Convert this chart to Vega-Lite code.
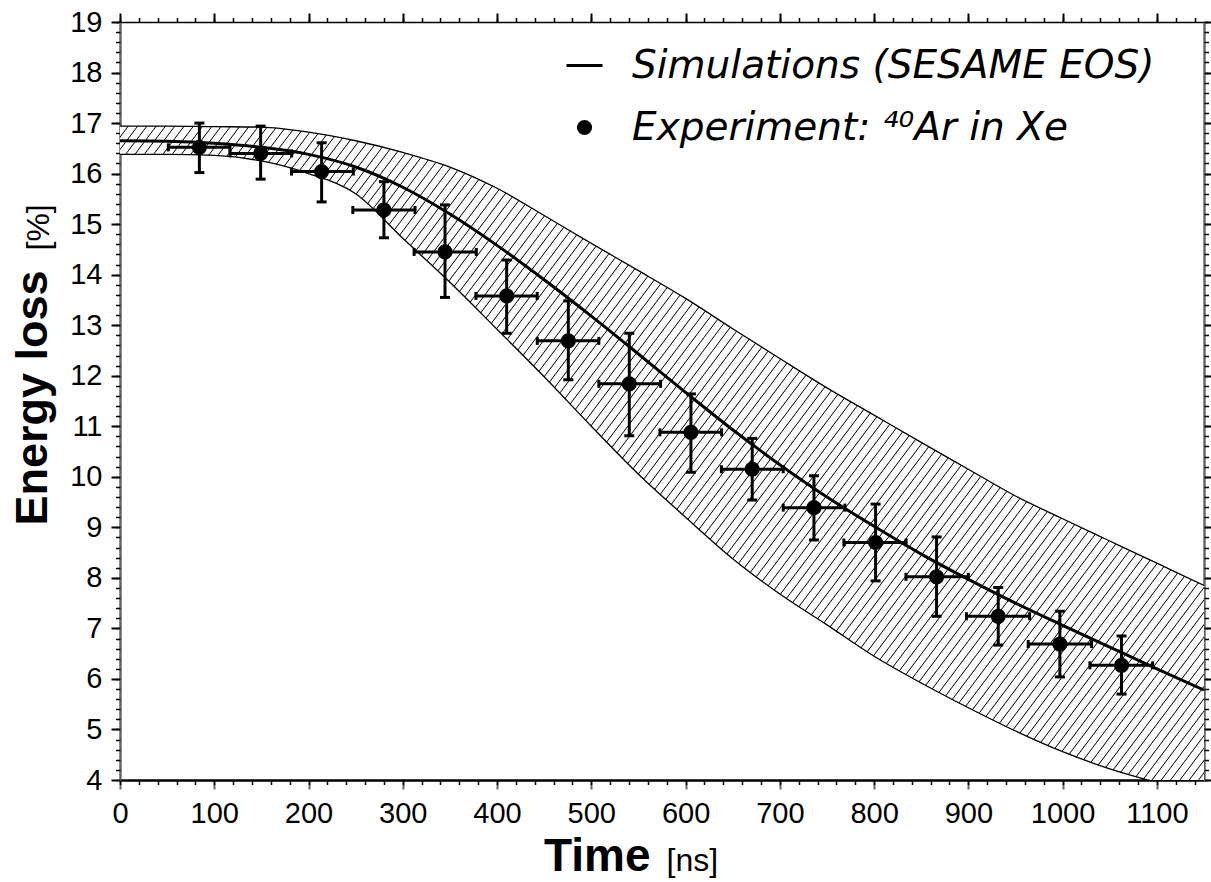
{
"$schema":"https://vega.github.io/schema/vega-lite/v6.json",
"width":1084,"height":758,
"autosize":{"type":"none"},
"padding":{"left":120,"top":22,"right":7,"bottom":102},
"background":"white",
"config":{"view":{"stroke":null},"axis":{"grid":false,"zindex":1,"labelFont":"Liberation Sans","titleFont":"Liberation Sans","labelColor":"#000","titleColor":"#000","tickColor":"#000","domainColor":"#000","labelFlush":false,"labelOverlap":false}},
"datasets":{
"band":[
{"t":0,"lo":16.38,"up":16.94,"mid":16.65},
{"t":50,"lo":16.38,"up":16.94,"mid":16.64},
{"t":100,"lo":16.36,"up":16.93,"mid":16.60},
{"t":150,"lo":16.25,"up":16.92,"mid":16.52},
{"t":200,"lo":16.00,"up":16.82,"mid":16.38},
{"t":250,"lo":15.60,"up":16.65,"mid":16.13},
{"t":300,"lo":14.72,"up":16.42,"mid":15.73},
{"t":350,"lo":13.85,"up":16.13,"mid":15.20},
{"t":400,"lo":12.92,"up":15.71,"mid":14.58},
{"t":450,"lo":11.98,"up":15.17,"mid":13.90},
{"t":500,"lo":11.00,"up":14.62,"mid":13.18},
{"t":550,"lo":10.05,"up":14.08,"mid":12.43},
{"t":600,"lo":9.20,"up":13.53,"mid":11.67},
{"t":650,"lo":8.38,"up":12.93,"mid":10.93},
{"t":700,"lo":7.68,"up":12.34,"mid":10.24},
{"t":750,"lo":7.07,"up":11.76,"mid":9.60},
{"t":800,"lo":6.45,"up":11.22,"mid":9.02},
{"t":850,"lo":5.92,"up":10.68,"mid":8.47},
{"t":900,"lo":5.43,"up":10.15,"mid":7.97},
{"t":950,"lo":4.97,"up":9.62,"mid":7.50},
{"t":1000,"lo":4.56,"up":9.17,"mid":7.06},
{"t":1050,"lo":4.22,"up":8.73,"mid":6.63},
{"t":1100,"lo":3.95,"up":8.29,"mid":6.20},
{"t":1150,"lo":3.70,"up":7.85,"mid":5.78}
],
"pts":[
{"t":84.2,"v":16.52,"vlo":16.02,"vhi":17.0,"tlo":51.3,"thi":116.7},
{"t":149.2,"v":16.40,"vlo":15.89,"vhi":16.94,"tlo":116.7,"thi":182.1},
{"t":213.9,"v":16.04,"vlo":15.44,"vhi":16.61,"tlo":182,"thi":247.5},
{"t":280,"v":15.28,"vlo":14.73,"vhi":15.84,"tlo":247,"thi":313},
{"t":344.8,"v":14.45,"vlo":13.55,"vhi":15.38,"tlo":312,"thi":378},
{"t":410.2,"v":13.58,"vlo":12.84,"vhi":14.29,"tlo":377.6,"thi":442.6},
{"t":475.6,"v":12.69,"vlo":11.92,"vhi":13.48,"tlo":442.7,"thi":508},
{"t":540.3,"v":11.84,"vlo":10.81,"vhi":12.84,"tlo":508,"thi":573.5},
{"t":605.7,"v":10.88,"vlo":10.09,"vhi":11.64,"tlo":572.8,"thi":638.2},
{"t":670.7,"v":10.15,"vlo":9.54,"vhi":10.76,"tlo":638,"thi":703.6},
{"t":736.2,"v":9.39,"vlo":8.75,"vhi":10.02,"tlo":703.6,"thi":769},
{"t":801.6,"v":8.70,"vlo":7.94,"vhi":9.46,"tlo":768,"thi":834},
{"t":866.3,"v":8.02,"vlo":7.24,"vhi":8.81,"tlo":833.8,"thi":900},
{"t":931.7,"v":7.24,"vlo":6.67,"vhi":7.81,"tlo":898,"thi":965},
{"t":997.1,"v":6.69,"vlo":6.04,"vhi":7.34,"tlo":963.5,"thi":1030.7},
{"t":1062.5,"v":6.27,"vlo":5.70,"vhi":6.85,"tlo":1029,"thi":1095.5}
]
},
"layer":[
{"data":{"name":"band"},
"mark":{"type":"area","interpolate":"monotone","clip":true,"fill":{"gradient":"linear","x1":0,"y1":0,"x2":1.4112,"y2":0.6564,"stops":[
{"offset":0.00,"color":"#fff"},{"offset":0.0039,"color":"#fff"},{"offset":0.0045,"color":"#000"},{"offset":0.005,"color":"#fff"},{"offset":0.0089,"color":"#fff"},{"offset":0.0095,"color":"#000"},
{"offset":0.01,"color":"#fff"},{"offset":0.0139,"color":"#fff"},{"offset":0.0145,"color":"#000"},{"offset":0.015,"color":"#fff"},{"offset":0.0189,"color":"#fff"},{"offset":0.0195,"color":"#000"},
{"offset":0.02,"color":"#fff"},{"offset":0.0239,"color":"#fff"},{"offset":0.0245,"color":"#000"},{"offset":0.025,"color":"#fff"},{"offset":0.0289,"color":"#fff"},{"offset":0.0295,"color":"#000"},
{"offset":0.03,"color":"#fff"},{"offset":0.0339,"color":"#fff"},{"offset":0.0345,"color":"#000"},{"offset":0.035,"color":"#fff"},{"offset":0.0389,"color":"#fff"},{"offset":0.0395,"color":"#000"},
{"offset":0.04,"color":"#fff"},{"offset":0.0439,"color":"#fff"},{"offset":0.0445,"color":"#000"},{"offset":0.045,"color":"#fff"},{"offset":0.0489,"color":"#fff"},{"offset":0.0495,"color":"#000"},
{"offset":0.05,"color":"#fff"},{"offset":0.0539,"color":"#fff"},{"offset":0.0545,"color":"#000"},{"offset":0.055,"color":"#fff"},{"offset":0.0589,"color":"#fff"},{"offset":0.0595,"color":"#000"},
{"offset":0.06,"color":"#fff"},{"offset":0.0639,"color":"#fff"},{"offset":0.0645,"color":"#000"},{"offset":0.065,"color":"#fff"},{"offset":0.0689,"color":"#fff"},{"offset":0.0695,"color":"#000"},
{"offset":0.07,"color":"#fff"},{"offset":0.0739,"color":"#fff"},{"offset":0.0745,"color":"#000"},{"offset":0.075,"color":"#fff"},{"offset":0.0789,"color":"#fff"},{"offset":0.0795,"color":"#000"},
{"offset":0.08,"color":"#fff"},{"offset":0.0839,"color":"#fff"},{"offset":0.0845,"color":"#000"},{"offset":0.085,"color":"#fff"},{"offset":0.0889,"color":"#fff"},{"offset":0.0895,"color":"#000"},
{"offset":0.09,"color":"#fff"},{"offset":0.0939,"color":"#fff"},{"offset":0.0945,"color":"#000"},{"offset":0.095,"color":"#fff"},{"offset":0.0989,"color":"#fff"},{"offset":0.0995,"color":"#000"},
{"offset":0.10,"color":"#fff"},{"offset":0.1039,"color":"#fff"},{"offset":0.1045,"color":"#000"},{"offset":0.105,"color":"#fff"},{"offset":0.1089,"color":"#fff"},{"offset":0.1095,"color":"#000"},
{"offset":0.11,"color":"#fff"},{"offset":0.1139,"color":"#fff"},{"offset":0.1145,"color":"#000"},{"offset":0.115,"color":"#fff"},{"offset":0.1189,"color":"#fff"},{"offset":0.1195,"color":"#000"},
{"offset":0.12,"color":"#fff"},{"offset":0.1239,"color":"#fff"},{"offset":0.1245,"color":"#000"},{"offset":0.125,"color":"#fff"},{"offset":0.1289,"color":"#fff"},{"offset":0.1295,"color":"#000"},
{"offset":0.13,"color":"#fff"},{"offset":0.1339,"color":"#fff"},{"offset":0.1345,"color":"#000"},{"offset":0.135,"color":"#fff"},{"offset":0.1389,"color":"#fff"},{"offset":0.1395,"color":"#000"},
{"offset":0.14,"color":"#fff"},{"offset":0.1439,"color":"#fff"},{"offset":0.1445,"color":"#000"},{"offset":0.145,"color":"#fff"},{"offset":0.1489,"color":"#fff"},{"offset":0.1495,"color":"#000"},
{"offset":0.15,"color":"#fff"},{"offset":0.1539,"color":"#fff"},{"offset":0.1545,"color":"#000"},{"offset":0.155,"color":"#fff"},{"offset":0.1589,"color":"#fff"},{"offset":0.1595,"color":"#000"},
{"offset":0.16,"color":"#fff"},{"offset":0.1639,"color":"#fff"},{"offset":0.1645,"color":"#000"},{"offset":0.165,"color":"#fff"},{"offset":0.1689,"color":"#fff"},{"offset":0.1695,"color":"#000"},
{"offset":0.17,"color":"#fff"},{"offset":0.1739,"color":"#fff"},{"offset":0.1745,"color":"#000"},{"offset":0.175,"color":"#fff"},{"offset":0.1789,"color":"#fff"},{"offset":0.1795,"color":"#000"},
{"offset":0.18,"color":"#fff"},{"offset":0.1839,"color":"#fff"},{"offset":0.1845,"color":"#000"},{"offset":0.185,"color":"#fff"},{"offset":0.1889,"color":"#fff"},{"offset":0.1895,"color":"#000"},
{"offset":0.19,"color":"#fff"},{"offset":0.1939,"color":"#fff"},{"offset":0.1945,"color":"#000"},{"offset":0.195,"color":"#fff"},{"offset":0.1989,"color":"#fff"},{"offset":0.1995,"color":"#000"},
{"offset":0.20,"color":"#fff"},{"offset":0.2039,"color":"#fff"},{"offset":0.2045,"color":"#000"},{"offset":0.205,"color":"#fff"},{"offset":0.2089,"color":"#fff"},{"offset":0.2095,"color":"#000"},
{"offset":0.21,"color":"#fff"},{"offset":0.2139,"color":"#fff"},{"offset":0.2145,"color":"#000"},{"offset":0.215,"color":"#fff"},{"offset":0.2189,"color":"#fff"},{"offset":0.2195,"color":"#000"},
{"offset":0.22,"color":"#fff"},{"offset":0.2239,"color":"#fff"},{"offset":0.2245,"color":"#000"},{"offset":0.225,"color":"#fff"},{"offset":0.2289,"color":"#fff"},{"offset":0.2295,"color":"#000"},
{"offset":0.23,"color":"#fff"},{"offset":0.2339,"color":"#fff"},{"offset":0.2345,"color":"#000"},{"offset":0.235,"color":"#fff"},{"offset":0.2389,"color":"#fff"},{"offset":0.2395,"color":"#000"},
{"offset":0.24,"color":"#fff"},{"offset":0.2439,"color":"#fff"},{"offset":0.2445,"color":"#000"},{"offset":0.245,"color":"#fff"},{"offset":0.2489,"color":"#fff"},{"offset":0.2495,"color":"#000"},
{"offset":0.25,"color":"#fff"},{"offset":0.2539,"color":"#fff"},{"offset":0.2545,"color":"#000"},{"offset":0.255,"color":"#fff"},{"offset":0.2589,"color":"#fff"},{"offset":0.2595,"color":"#000"},
{"offset":0.26,"color":"#fff"},{"offset":0.2639,"color":"#fff"},{"offset":0.2645,"color":"#000"},{"offset":0.265,"color":"#fff"},{"offset":0.2689,"color":"#fff"},{"offset":0.2695,"color":"#000"},
{"offset":0.27,"color":"#fff"},{"offset":0.2739,"color":"#fff"},{"offset":0.2745,"color":"#000"},{"offset":0.275,"color":"#fff"},{"offset":0.2789,"color":"#fff"},{"offset":0.2795,"color":"#000"},
{"offset":0.28,"color":"#fff"},{"offset":0.2839,"color":"#fff"},{"offset":0.2845,"color":"#000"},{"offset":0.285,"color":"#fff"},{"offset":0.2889,"color":"#fff"},{"offset":0.2895,"color":"#000"},
{"offset":0.29,"color":"#fff"},{"offset":0.2939,"color":"#fff"},{"offset":0.2945,"color":"#000"},{"offset":0.295,"color":"#fff"},{"offset":0.2989,"color":"#fff"},{"offset":0.2995,"color":"#000"},
{"offset":0.30,"color":"#fff"},{"offset":0.3039,"color":"#fff"},{"offset":0.3045,"color":"#000"},{"offset":0.305,"color":"#fff"},{"offset":0.3089,"color":"#fff"},{"offset":0.3095,"color":"#000"},
{"offset":0.31,"color":"#fff"},{"offset":0.3139,"color":"#fff"},{"offset":0.3145,"color":"#000"},{"offset":0.315,"color":"#fff"},{"offset":0.3189,"color":"#fff"},{"offset":0.3195,"color":"#000"},
{"offset":0.32,"color":"#fff"},{"offset":0.3239,"color":"#fff"},{"offset":0.3245,"color":"#000"},{"offset":0.325,"color":"#fff"},{"offset":0.3289,"color":"#fff"},{"offset":0.3295,"color":"#000"},
{"offset":0.33,"color":"#fff"},{"offset":0.3339,"color":"#fff"},{"offset":0.3345,"color":"#000"},{"offset":0.335,"color":"#fff"},{"offset":0.3389,"color":"#fff"},{"offset":0.3395,"color":"#000"},
{"offset":0.34,"color":"#fff"},{"offset":0.3439,"color":"#fff"},{"offset":0.3445,"color":"#000"},{"offset":0.345,"color":"#fff"},{"offset":0.3489,"color":"#fff"},{"offset":0.3495,"color":"#000"},
{"offset":0.35,"color":"#fff"},{"offset":0.3539,"color":"#fff"},{"offset":0.3545,"color":"#000"},{"offset":0.355,"color":"#fff"},{"offset":0.3589,"color":"#fff"},{"offset":0.3595,"color":"#000"},
{"offset":0.36,"color":"#fff"},{"offset":0.3639,"color":"#fff"},{"offset":0.3645,"color":"#000"},{"offset":0.365,"color":"#fff"},{"offset":0.3689,"color":"#fff"},{"offset":0.3695,"color":"#000"},
{"offset":0.37,"color":"#fff"},{"offset":0.3739,"color":"#fff"},{"offset":0.3745,"color":"#000"},{"offset":0.375,"color":"#fff"},{"offset":0.3789,"color":"#fff"},{"offset":0.3795,"color":"#000"},
{"offset":0.38,"color":"#fff"},{"offset":0.3839,"color":"#fff"},{"offset":0.3845,"color":"#000"},{"offset":0.385,"color":"#fff"},{"offset":0.3889,"color":"#fff"},{"offset":0.3895,"color":"#000"},
{"offset":0.39,"color":"#fff"},{"offset":0.3939,"color":"#fff"},{"offset":0.3945,"color":"#000"},{"offset":0.395,"color":"#fff"},{"offset":0.3989,"color":"#fff"},{"offset":0.3995,"color":"#000"},
{"offset":0.40,"color":"#fff"},{"offset":0.4039,"color":"#fff"},{"offset":0.4045,"color":"#000"},{"offset":0.405,"color":"#fff"},{"offset":0.4089,"color":"#fff"},{"offset":0.4095,"color":"#000"},
{"offset":0.41,"color":"#fff"},{"offset":0.4139,"color":"#fff"},{"offset":0.4145,"color":"#000"},{"offset":0.415,"color":"#fff"},{"offset":0.4189,"color":"#fff"},{"offset":0.4195,"color":"#000"},
{"offset":0.42,"color":"#fff"},{"offset":0.4239,"color":"#fff"},{"offset":0.4245,"color":"#000"},{"offset":0.425,"color":"#fff"},{"offset":0.4289,"color":"#fff"},{"offset":0.4295,"color":"#000"},
{"offset":0.43,"color":"#fff"},{"offset":0.4339,"color":"#fff"},{"offset":0.4345,"color":"#000"},{"offset":0.435,"color":"#fff"},{"offset":0.4389,"color":"#fff"},{"offset":0.4395,"color":"#000"},
{"offset":0.44,"color":"#fff"},{"offset":0.4439,"color":"#fff"},{"offset":0.4445,"color":"#000"},{"offset":0.445,"color":"#fff"},{"offset":0.4489,"color":"#fff"},{"offset":0.4495,"color":"#000"},
{"offset":0.45,"color":"#fff"},{"offset":0.4539,"color":"#fff"},{"offset":0.4545,"color":"#000"},{"offset":0.455,"color":"#fff"},{"offset":0.4589,"color":"#fff"},{"offset":0.4595,"color":"#000"},
{"offset":0.46,"color":"#fff"},{"offset":0.4639,"color":"#fff"},{"offset":0.4645,"color":"#000"},{"offset":0.465,"color":"#fff"},{"offset":0.4689,"color":"#fff"},{"offset":0.4695,"color":"#000"},
{"offset":0.47,"color":"#fff"},{"offset":0.4739,"color":"#fff"},{"offset":0.4745,"color":"#000"},{"offset":0.475,"color":"#fff"},{"offset":0.4789,"color":"#fff"},{"offset":0.4795,"color":"#000"},
{"offset":0.48,"color":"#fff"},{"offset":0.4839,"color":"#fff"},{"offset":0.4845,"color":"#000"},{"offset":0.485,"color":"#fff"},{"offset":0.4889,"color":"#fff"},{"offset":0.4895,"color":"#000"},
{"offset":0.49,"color":"#fff"},{"offset":0.4939,"color":"#fff"},{"offset":0.4945,"color":"#000"},{"offset":0.495,"color":"#fff"},{"offset":0.4989,"color":"#fff"},{"offset":0.4995,"color":"#000"},
{"offset":0.50,"color":"#fff"},{"offset":0.5039,"color":"#fff"},{"offset":0.5045,"color":"#000"},{"offset":0.505,"color":"#fff"},{"offset":0.5089,"color":"#fff"},{"offset":0.5095,"color":"#000"},
{"offset":0.51,"color":"#fff"},{"offset":0.5139,"color":"#fff"},{"offset":0.5145,"color":"#000"},{"offset":0.515,"color":"#fff"},{"offset":0.5189,"color":"#fff"},{"offset":0.5195,"color":"#000"},
{"offset":0.52,"color":"#fff"},{"offset":0.5239,"color":"#fff"},{"offset":0.5245,"color":"#000"},{"offset":0.525,"color":"#fff"},{"offset":0.5289,"color":"#fff"},{"offset":0.5295,"color":"#000"},
{"offset":0.53,"color":"#fff"},{"offset":0.5339,"color":"#fff"},{"offset":0.5345,"color":"#000"},{"offset":0.535,"color":"#fff"},{"offset":0.5389,"color":"#fff"},{"offset":0.5395,"color":"#000"},
{"offset":0.54,"color":"#fff"},{"offset":0.5439,"color":"#fff"},{"offset":0.5445,"color":"#000"},{"offset":0.545,"color":"#fff"},{"offset":0.5489,"color":"#fff"},{"offset":0.5495,"color":"#000"},
{"offset":0.55,"color":"#fff"},{"offset":0.5539,"color":"#fff"},{"offset":0.5545,"color":"#000"},{"offset":0.555,"color":"#fff"},{"offset":0.5589,"color":"#fff"},{"offset":0.5595,"color":"#000"},
{"offset":0.56,"color":"#fff"},{"offset":0.5639,"color":"#fff"},{"offset":0.5645,"color":"#000"},{"offset":0.565,"color":"#fff"},{"offset":0.5689,"color":"#fff"},{"offset":0.5695,"color":"#000"},
{"offset":0.57,"color":"#fff"},{"offset":0.5739,"color":"#fff"},{"offset":0.5745,"color":"#000"},{"offset":0.575,"color":"#fff"},{"offset":0.5789,"color":"#fff"},{"offset":0.5795,"color":"#000"},
{"offset":0.58,"color":"#fff"},{"offset":0.5839,"color":"#fff"},{"offset":0.5845,"color":"#000"},{"offset":0.585,"color":"#fff"},{"offset":0.5889,"color":"#fff"},{"offset":0.5895,"color":"#000"},
{"offset":0.59,"color":"#fff"},{"offset":0.5939,"color":"#fff"},{"offset":0.5945,"color":"#000"},{"offset":0.595,"color":"#fff"},{"offset":0.5989,"color":"#fff"},{"offset":0.5995,"color":"#000"},
{"offset":0.60,"color":"#fff"},{"offset":0.6039,"color":"#fff"},{"offset":0.6045,"color":"#000"},{"offset":0.605,"color":"#fff"},{"offset":0.6089,"color":"#fff"},{"offset":0.6095,"color":"#000"},
{"offset":0.61,"color":"#fff"},{"offset":0.6139,"color":"#fff"},{"offset":0.6145,"color":"#000"},{"offset":0.615,"color":"#fff"},{"offset":0.6189,"color":"#fff"},{"offset":0.6195,"color":"#000"},
{"offset":0.62,"color":"#fff"},{"offset":0.6239,"color":"#fff"},{"offset":0.6245,"color":"#000"},{"offset":0.625,"color":"#fff"},{"offset":0.6289,"color":"#fff"},{"offset":0.6295,"color":"#000"},
{"offset":0.63,"color":"#fff"},{"offset":0.6339,"color":"#fff"},{"offset":0.6345,"color":"#000"},{"offset":0.635,"color":"#fff"},{"offset":0.6389,"color":"#fff"},{"offset":0.6395,"color":"#000"},
{"offset":0.64,"color":"#fff"},{"offset":0.6439,"color":"#fff"},{"offset":0.6445,"color":"#000"},{"offset":0.645,"color":"#fff"},{"offset":0.6489,"color":"#fff"},{"offset":0.6495,"color":"#000"},
{"offset":0.65,"color":"#fff"},{"offset":0.6539,"color":"#fff"},{"offset":0.6545,"color":"#000"},{"offset":0.655,"color":"#fff"},{"offset":0.6589,"color":"#fff"},{"offset":0.6595,"color":"#000"},
{"offset":0.66,"color":"#fff"},{"offset":0.6639,"color":"#fff"},{"offset":0.6645,"color":"#000"},{"offset":0.665,"color":"#fff"},{"offset":0.6689,"color":"#fff"},{"offset":0.6695,"color":"#000"},
{"offset":0.67,"color":"#fff"},{"offset":0.6739,"color":"#fff"},{"offset":0.6745,"color":"#000"},{"offset":0.675,"color":"#fff"},{"offset":0.6789,"color":"#fff"},{"offset":0.6795,"color":"#000"},
{"offset":0.68,"color":"#fff"},{"offset":0.6839,"color":"#fff"},{"offset":0.6845,"color":"#000"},{"offset":0.685,"color":"#fff"},{"offset":0.6889,"color":"#fff"},{"offset":0.6895,"color":"#000"},
{"offset":0.69,"color":"#fff"},{"offset":0.6939,"color":"#fff"},{"offset":0.6945,"color":"#000"},{"offset":0.695,"color":"#fff"},{"offset":0.6989,"color":"#fff"},{"offset":0.6995,"color":"#000"},
{"offset":0.70,"color":"#fff"},{"offset":0.7039,"color":"#fff"},{"offset":0.7045,"color":"#000"},{"offset":0.705,"color":"#fff"},{"offset":0.7089,"color":"#fff"},{"offset":0.7095,"color":"#000"},
{"offset":0.71,"color":"#fff"},{"offset":0.7139,"color":"#fff"},{"offset":0.7145,"color":"#000"},{"offset":0.715,"color":"#fff"},{"offset":0.7189,"color":"#fff"},{"offset":0.7195,"color":"#000"},
{"offset":0.72,"color":"#fff"},{"offset":0.7239,"color":"#fff"},{"offset":0.7245,"color":"#000"},{"offset":0.725,"color":"#fff"},{"offset":0.7289,"color":"#fff"},{"offset":0.7295,"color":"#000"},
{"offset":0.73,"color":"#fff"},{"offset":0.7339,"color":"#fff"},{"offset":0.7345,"color":"#000"},{"offset":0.735,"color":"#fff"},{"offset":0.7389,"color":"#fff"},{"offset":0.7395,"color":"#000"},
{"offset":0.74,"color":"#fff"},{"offset":0.7439,"color":"#fff"},{"offset":0.7445,"color":"#000"},{"offset":0.745,"color":"#fff"},{"offset":0.7489,"color":"#fff"},{"offset":0.7495,"color":"#000"},
{"offset":0.75,"color":"#fff"},{"offset":0.7539,"color":"#fff"},{"offset":0.7545,"color":"#000"},{"offset":0.755,"color":"#fff"},{"offset":0.7589,"color":"#fff"},{"offset":0.7595,"color":"#000"},
{"offset":0.76,"color":"#fff"},{"offset":0.7639,"color":"#fff"},{"offset":0.7645,"color":"#000"},{"offset":0.765,"color":"#fff"},{"offset":0.7689,"color":"#fff"},{"offset":0.7695,"color":"#000"},
{"offset":0.77,"color":"#fff"},{"offset":0.7739,"color":"#fff"},{"offset":0.7745,"color":"#000"},{"offset":0.775,"color":"#fff"},{"offset":0.7789,"color":"#fff"},{"offset":0.7795,"color":"#000"},
{"offset":0.78,"color":"#fff"},{"offset":0.7839,"color":"#fff"},{"offset":0.7845,"color":"#000"},{"offset":0.785,"color":"#fff"},{"offset":0.7889,"color":"#fff"},{"offset":0.7895,"color":"#000"},
{"offset":0.79,"color":"#fff"},{"offset":0.7939,"color":"#fff"},{"offset":0.7945,"color":"#000"},{"offset":0.795,"color":"#fff"},{"offset":0.7989,"color":"#fff"},{"offset":0.7995,"color":"#000"},
{"offset":0.80,"color":"#fff"},{"offset":0.8039,"color":"#fff"},{"offset":0.8045,"color":"#000"},{"offset":0.805,"color":"#fff"},{"offset":0.8089,"color":"#fff"},{"offset":0.8095,"color":"#000"},
{"offset":0.81,"color":"#fff"},{"offset":0.8139,"color":"#fff"},{"offset":0.8145,"color":"#000"},{"offset":0.815,"color":"#fff"},{"offset":0.8189,"color":"#fff"},{"offset":0.8195,"color":"#000"},
{"offset":0.82,"color":"#fff"},{"offset":0.8239,"color":"#fff"},{"offset":0.8245,"color":"#000"},{"offset":0.825,"color":"#fff"},{"offset":0.8289,"color":"#fff"},{"offset":0.8295,"color":"#000"},
{"offset":0.83,"color":"#fff"},{"offset":0.8339,"color":"#fff"},{"offset":0.8345,"color":"#000"},{"offset":0.835,"color":"#fff"},{"offset":0.8389,"color":"#fff"},{"offset":0.8395,"color":"#000"},
{"offset":0.84,"color":"#fff"},{"offset":0.8439,"color":"#fff"},{"offset":0.8445,"color":"#000"},{"offset":0.845,"color":"#fff"},{"offset":0.8489,"color":"#fff"},{"offset":0.8495,"color":"#000"},
{"offset":0.85,"color":"#fff"},{"offset":0.8539,"color":"#fff"},{"offset":0.8545,"color":"#000"},{"offset":0.855,"color":"#fff"},{"offset":0.8589,"color":"#fff"},{"offset":0.8595,"color":"#000"},
{"offset":0.86,"color":"#fff"},{"offset":1,"color":"#fff"}
]}},
"encoding":{
"x":{"field":"t","type":"quantitative","scale":{"domain":[0,1150],"nice":false,"zero":false},"axis":{"orient":"bottom","values":[0,100,200,300,400,500,600,700,800,900,1000,1100],"format":"d","tickSize":9,"tickWidth":2,"tickColor":"#666","labelFontSize":29,"labelPadding":10,"domainWidth":2.5,"title":"Time","titleFontSize":46,"titleFontWeight":"bold","titleX":530,"titleY":90,"titleAlign":"right","titleBaseline":"alphabetic"}},
"y":{"field":"lo","type":"quantitative","scale":{"domain":[4,19],"nice":false,"zero":false},"axis":{"orient":"left","values":[4,5,6,7,8,9,10,11,12,13,14,15,16,17,18,19],"format":"d","tickSize":9,"tickWidth":2,"labelFontSize":29,"labelPadding":9,"domainWidth":2.5,"domainColor":"#666","title":"Energy loss","titleFontSize":45,"titleFontWeight":"bold","titleAngle":270,"titleX":-74,"titleY":503,"titleAlign":"left","titleBaseline":"alphabetic"}},
"y2":{"field":"up"}
}},
{"data":{"name":"band"},
"mark":{"type":"line","interpolate":"monotone","strokeWidth":1.3,"clip":true},
"encoding":{
"x":{"field":"t","type":"quantitative","scale":{"domain":[0,1150],"nice":false,"zero":false},"axis":{"orient":"top","values":[0,100,200,300,400,500,600,700,800,900,1000,1100],"tickSize":9,"tickWidth":2,"labels":false,"domainWidth":1.5,"title":"[ns]","titleFontSize":32,"titleFontWeight":"normal","titleX":546,"titleY":848,"titleAlign":"left","titleBaseline":"alphabetic"}},
"y":{"field":"up","type":"quantitative","scale":{"domain":[4,19],"nice":false,"zero":false},"axis":{"orient":"right","values":[4,5,6,7,8,9,10,11,12,13,14,15,16,17,18,19],"tickSize":9,"tickWidth":2,"labels":false,"domainWidth":2.5,"domainColor":"#666","title":"[%]","titleFontSize":32,"titleFontWeight":"normal","titleAngle":270,"titleX":-1156,"titleY":228,"titleAlign":"left","titleBaseline":"alphabetic"}},
"color":{"value":"#000"}
}},
{"data":{"name":"band"},
"mark":{"type":"line","interpolate":"monotone","strokeWidth":1.3,"clip":true},
"encoding":{
"x":{"field":"t","type":"quantitative","scale":{"domain":[0,1150],"nice":false,"zero":false},"axis":{"orient":"top","values":[0,20,40,60,80,100,120,140,160,180,200,220,240,260,280,300,320,340,360,380,400,420,440,460,480,500,520,540,560,580,600,620,640,660,680,700,720,740,760,780,800,820,840,860,880,900,920,940,960,980,1000,1020,1040,1060,1080,1100,1120,1140],"tickSize":4.5,"tickWidth":1.5,"labels":false,"domain":false,"title":null}},
"y":{"field":"lo","type":"quantitative","scale":{"domain":[4,19],"nice":false,"zero":false},"axis":{"orient":"right","values":[4,4.2,4.4,4.6,4.8,5,5.2,5.4,5.6,5.8,6,6.2,6.4,6.6,6.8,7,7.2,7.4,7.6,7.8,8,8.2,8.4,8.6,8.8,9,9.2,9.4,9.6,9.8,10,10.2,10.4,10.6,10.8,11,11.2,11.4,11.6,11.8,12,12.2,12.4,12.6,12.8,13,13.2,13.4,13.6,13.8,14,14.2,14.4,14.6,14.8,15,15.2,15.4,15.6,15.8,16,16.2,16.4,16.6,16.8,17,17.2,17.4,17.6,17.8,18,18.2,18.4,18.6,18.8,19],"tickSize":4.5,"tickWidth":1.5,"labels":false,"domain":false,"title":null}},
"color":{"value":"#000"}
}},
{"data":{"name":"band"},
"mark":{"type":"line","interpolate":"monotone","strokeWidth":3,"clip":true},
"encoding":{
"x":{"field":"t","type":"quantitative","scale":{"domain":[0,1150],"nice":false,"zero":false},"axis":{"orient":"bottom","values":[0,20,40,60,80,100,120,140,160,180,200,220,240,260,280,300,320,340,360,380,400,420,440,460,480,500,520,540,560,580,600,620,640,660,680,700,720,740,760,780,800,820,840,860,880,900,920,940,960,980,1000,1020,1040,1060,1080,1100,1120,1140],"tickSize":4.5,"tickWidth":1.5,"labels":false,"domain":false,"title":null}},
"y":{"field":"mid","type":"quantitative","scale":{"domain":[4,19],"nice":false,"zero":false},"axis":{"orient":"left","values":[4,4.2,4.4,4.6,4.8,5,5.2,5.4,5.6,5.8,6,6.2,6.4,6.6,6.8,7,7.2,7.4,7.6,7.8,8,8.2,8.4,8.6,8.8,9,9.2,9.4,9.6,9.8,10,10.2,10.4,10.6,10.8,11,11.2,11.4,11.6,11.8,12,12.2,12.4,12.6,12.8,13,13.2,13.4,13.6,13.8,14,14.2,14.4,14.6,14.8,15,15.2,15.4,15.6,15.8,16,16.2,16.4,16.6,16.8,17,17.2,17.4,17.6,17.8,18,18.2,18.4,18.6,18.8,19],"tickSize":4.5,"tickWidth":1.5,"labels":false,"domain":false,"title":null}},
"color":{"datum":"Simulations (SESAME EOS)","type":"nominal","scale":{"domain":["Simulations (SESAME EOS)","Experiment: ⁴⁰Ar in Xe"],"range":["#000","#000"]},
"legend":{"title":null,"orient":"none","legendX":445,"legendY":24,"padding":0,"labelFont":"DejaVu Sans","labelFontStyle":"italic","labelFontSize":39,"labelColor":"#000","labelOffset":28,"labelLimit":900,"rowPadding":22,"symbolSize":1296,"symbolStrokeWidth":0,
"encode":{"symbols":{"update":{
"shape":{"signal":"datum.value === 'Simulations (SESAME EOS)' ? 'stroke' : 'circle'"},
"size":{"signal":"datum.value === 'Simulations (SESAME EOS)' ? 1296 : 230"},
"fill":{"signal":"datum.value === 'Simulations (SESAME EOS)' ? 'transparent' : '#000'"},
"stroke":{"value":"#000"},
"strokeWidth":{"signal":"datum.value === 'Simulations (SESAME EOS)' ? 3 : 0"},
"opacity":{"value":1},"fillOpacity":{"value":1},"strokeOpacity":{"value":1}}}}}}
}},
{"data":{"name":"pts"},
"mark":{"type":"errorbar","ticks":{"opacity":1},"size":10,"thickness":3,"color":"#000"},
"encoding":{
"x":{"field":"t","type":"quantitative","scale":{"domain":[0,1150],"nice":false,"zero":false},"axis":null},
"y":{"field":"vlo","type":"quantitative","scale":{"domain":[4,19],"nice":false,"zero":false},"axis":null},
"y2":{"field":"vhi"}
}},
{"data":{"name":"pts"},
"mark":{"type":"errorbar","ticks":{"opacity":1},"size":8,"thickness":3,"color":"#000"},
"encoding":{
"y":{"field":"v","type":"quantitative","scale":{"domain":[4,19],"nice":false,"zero":false},"axis":null},
"x":{"field":"tlo","type":"quantitative","scale":{"domain":[0,1150],"nice":false,"zero":false},"axis":null},
"x2":{"field":"thi"}
}},
{"data":{"name":"pts"},
"mark":{"type":"point","shape":"circle","filled":true,"size":230,"opacity":1},
"encoding":{
"x":{"field":"t","type":"quantitative","scale":{"domain":[0,1150],"nice":false,"zero":false},"axis":null},
"y":{"field":"v","type":"quantitative","scale":{"domain":[4,19],"nice":false,"zero":false},"axis":null},
"color":{"datum":"Experiment: ⁴⁰Ar in Xe","type":"nominal","scale":{"domain":["Simulations (SESAME EOS)","Experiment: ⁴⁰Ar in Xe"],"range":["#000","#000"]}}
}}
],
"resolve":{"axis":{"x":"independent","y":"independent"}}
}
